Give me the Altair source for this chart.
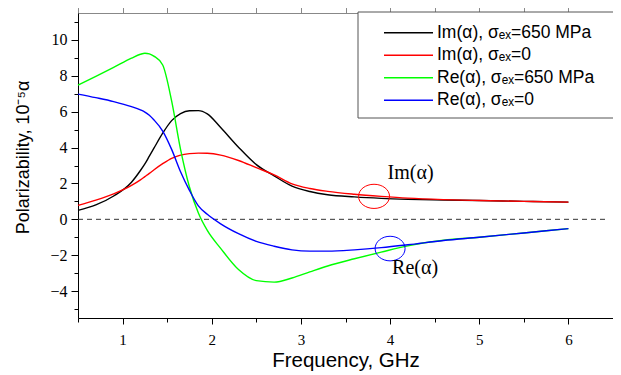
import altair as alt
import pandas as pd

# ---- data ----
freq = [0.5, 0.7, 0.9, 1.1, 1.2, 1.25, 1.3, 1.35, 1.45, 1.55, 1.65, 1.75, 1.85, 1.95,
        2.1, 2.3, 2.5, 2.7, 2.9, 3.1, 3.3, 3.6, 3.9, 4.2, 4.6, 5.0, 5.5, 6.0]
im_650 = [0.50, 0.80, 1.30, 2.07, 2.72, 3.09, 3.52, 3.95, 4.80, 5.50, 5.89, 6.05, 6.06, 5.88,
          5.12, 4.02, 3.05, 2.42, 1.85, 1.55, 1.37, 1.25, 1.17, 1.12, 1.08, 1.05, 1.00, 0.96]
im_0 = [0.78, 1.07, 1.42, 1.89, 2.20, 2.38, 2.56, 2.75, 3.10, 3.40, 3.58, 3.66, 3.69, 3.68,
        3.58, 3.28, 2.88, 2.48, 1.98, 1.72, 1.56, 1.40, 1.28, 1.18, 1.10, 1.05, 1.00, 0.96]
re_650 = [7.48, 7.97, 8.47, 8.98, 9.20, 9.26, 9.22, 9.10, 8.60, 6.60, 3.90, 1.80, 0.35, -0.62,
          -1.62, -2.80, -3.42, -3.50, -3.27, -2.93, -2.60, -2.20, -1.83, -1.48, -1.17, -1.00, -0.76, -0.52]
re_0 = [6.98, 6.78, 6.56, 6.28, 6.10, 5.98, 5.80, 5.55, 4.92, 3.90, 2.65, 1.61, 0.75, 0.28,
        -0.25, -0.80, -1.23, -1.50, -1.70, -1.77, -1.77, -1.70, -1.58, -1.42, -1.18, -1.00, -0.76, -0.52]

series_names = ["Im(α), σₑₓ=650 MPa", "Im(α), σₑₓ=0",
                "Re(α), σₑₓ=650 MPa", "Re(α), σₑₓ=0"]
series_colors = ["#000000", "#ff0000", "#00ff00", "#0000ff"]

x_major = [1, 2, 3, 4, 5, 6]
x_minor = [0.5, 1.5, 2.5, 3.5, 4.5, 5.5, 6.5]
y_major = [-4, -2, 0, 2, 4, 6, 8, 10]
y_minor = [-5, -3, -1, 1, 3, 5, 7, 9, 11]

rows = []
for name, vals in zip(series_names, [im_650, im_0, re_650, re_0]):
    for f, v in zip(freq, vals):
        rows.append({"freq": f, "val": v, "series": name})
df = pd.DataFrame(rows)
one = pd.DataFrame({"k": [0]})

SERIF = "Liberation Serif"
SANS = "Liberation Sans"

xscale = alt.Scale(domain=[0.5, 6.5], nice=False, zero=False)
yscale = alt.Scale(domain=[-5.5, 11.5], nice=False, zero=False)

common = dict(domainColor="black", tickColor="black", labelColor="black",
              titleColor="black", grid=False, labelOverlap=False)

x_axis = alt.Axis(
    values=x_major, orient="bottom", tickSize=6,
    title="Frequency, GHz", titleFont=SANS, titleFontSize=20.5, titleFontWeight="normal",
    titlePadding=3, labelFont=SERIF, labelFontSize=15, labelPadding=8, **common,
)
y_axis = alt.Axis(
    values=y_major, orient="left", tickSize=7,
    title="Polarizability, 10⁻⁵α", titleFont=SANS, titleFontSize=18, titleFontWeight="normal",
    titleX=-50, titleY=144, titleBaseline="alphabetic", titleAngle=270,
    labelFont=SERIF, labelFontSize=16, labelPadding=4, **common,
)
x_axis_minor = alt.Axis(values=x_minor, orient="bottom", tickSize=4, labels=False,
                        domain=False, title=None, ticks=True, tickColor="black", grid=False)
y_axis_minor = alt.Axis(values=y_minor, orient="left", tickSize=4, labels=False,
                        domain=False, title=None, ticks=True, tickColor="black", grid=False)

minor = alt.Chart(one).mark_point(opacity=0).encode(
    x=alt.X("xv:Q", scale=xscale, axis=x_axis_minor),
    y=alt.Y("yv:Q", scale=yscale, axis=y_axis_minor),
).transform_calculate(xv="0.5", yv="0")

box = alt.Chart(one).mark_rect(fill="white", stroke="#555555", strokeWidth=1).encode(
    x=alt.value(280), x2=alt.value(560), y=alt.value(-1), y2=alt.value(105)
)

zero_line = alt.Chart(one).mark_rule(color="#333333", strokeDash=[5, 4], strokeWidth=1).encode(
    x=alt.datum(0.5), x2=alt.datum(6.45), y=alt.datum(0)
)

lines = alt.Chart(df).mark_line(interpolate="monotone", strokeWidth=1.4).encode(
    x=alt.X("freq:Q", scale=xscale, axis=x_axis),
    y=alt.Y("val:Q", scale=yscale, axis=y_axis),
    color=alt.Color(
        "series:N",
        scale=alt.Scale(domain=series_names, range=series_colors),
        sort=series_names,
        legend=alt.Legend(
            orient="none", legendX=305, legendY=11, title=None,
            symbolType="stroke", symbolSize=2401, symbolStrokeWidth=1.4,
            labelFont=SANS, labelFontSize=17.5, labelColor="black", labelOffset=3,
            labelLimit=400, rowPadding=3.5, padding=0, clipHeight=17.5,
        ),
    ),
)

ellipse_path = "M-1,0 A1,0.78,0,1,1,1,0 A1,0.78,0,1,1,-1,0 Z"
ellipse_path_b = "M-1,0 A1,0.82,0,1,1,1,0 A1,0.82,0,1,1,-1,0 Z"

ell_im = alt.Chart(one).mark_point(shape=ellipse_path, size=961, filled=False,
                                    color="#ff0000", strokeWidth=1, opacity=1).encode(
    x=alt.datum(3.82), y=alt.datum(1.28)
)
ell_re = alt.Chart(one).mark_point(shape=ellipse_path_b, size=900, filled=False,
                                    color="#0000ff", strokeWidth=1, opacity=1).encode(
    x=alt.datum(4.0), y=alt.datum(-1.63)
)

txt_im = alt.Chart(one).mark_text(font=SERIF, fontSize=20, color="black").encode(
    x=alt.datum(4.23), y=alt.datum(2.56), text=alt.value("Im(α)")
)
txt_re = alt.Chart(one).mark_text(font=SERIF, fontSize=20, color="black").encode(
    x=alt.datum(4.28), y=alt.datum(-2.72), text=alt.value("Re(α)")
)

chart = alt.layer(minor, box, zero_line, lines, ell_im, ell_re, txt_im, txt_re).resolve_axis(
    x="independent", y="independent"
).properties(
    width=535, height=305,
    autosize="none",
    padding={"left": 70, "top": 5, "right": 0, "bottom": 57},
).configure_view(stroke=None).configure(background="white")

chart.save("out.html", embed_options={"renderer": "svg", "actions": False})
